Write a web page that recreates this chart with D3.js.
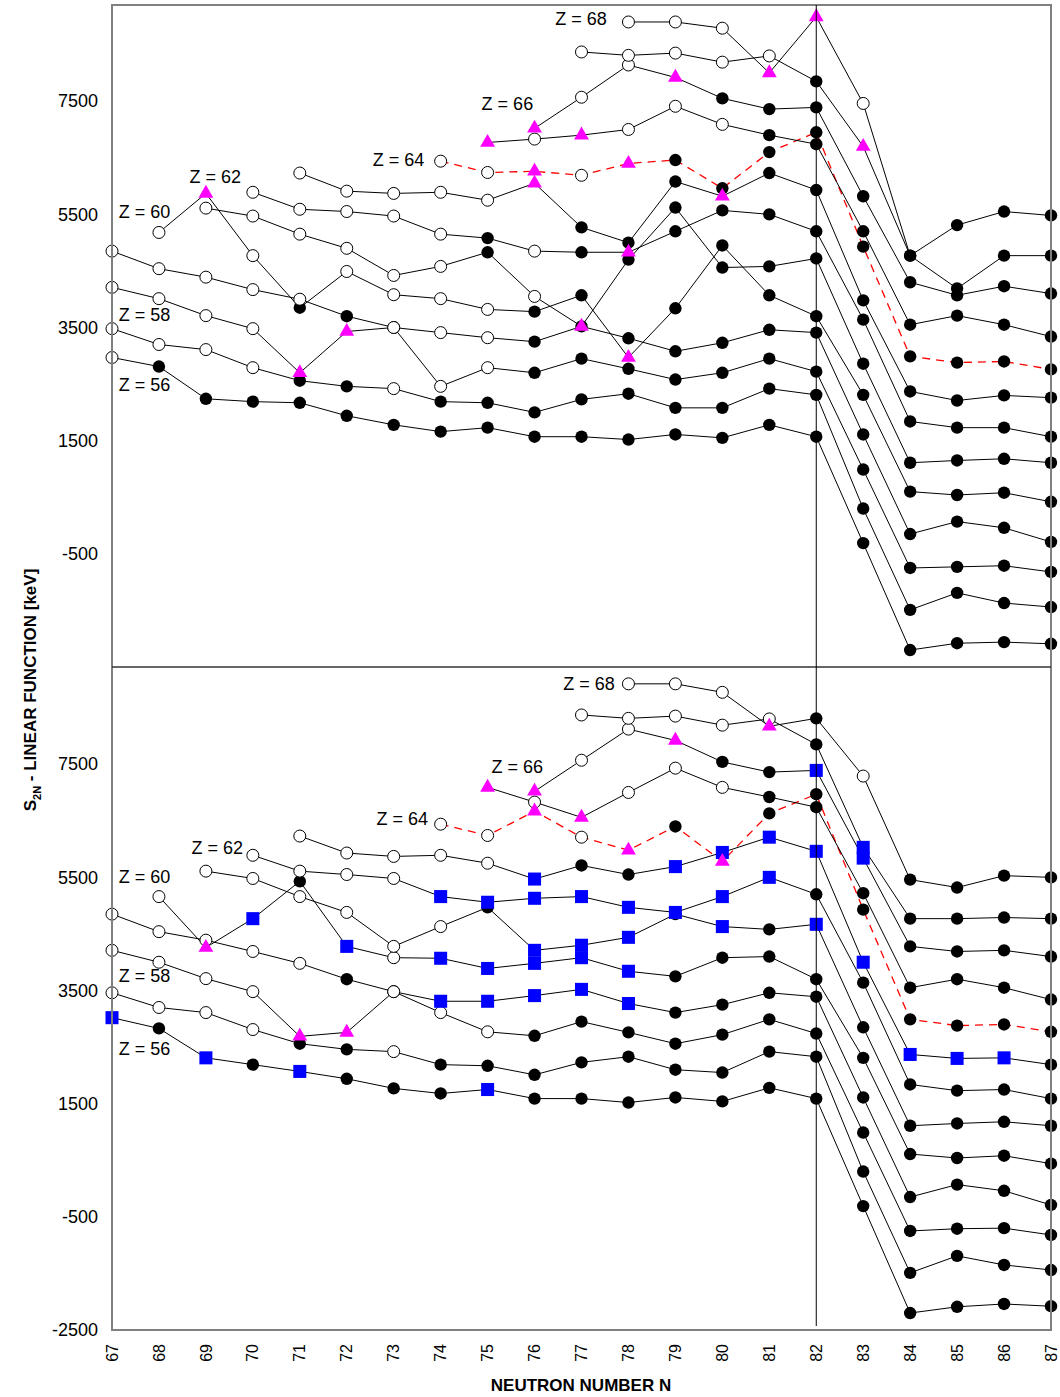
<!DOCTYPE html>
<html><head><meta charset="utf-8">
<script src="https://cdn.jsdelivr.net/npm/d3@7"></script>
<style>body{margin:0;background:#fff} text{font-family:"Liberation Sans", Arial, sans-serif}</style>
</head><body><svg id="c" width="1060" height="1397"></svg>
<script>
// ---------- data ----------
const neutronN = d3.range(67, 88);
const zValues = [56,57,58,59,60,61,62,63,64,65,66,67,68];
const startN  = [67,67,67,67,68,69,70,71,74,75,76,77,78];
const yTicksTop = [-500,1500,3500,5500,7500];
const yTicksBottom = [-2500,-500,1500,3500,5500,7500];
const dashedZ = 64;

// top panel (keV), one value per N from startN up to 87
const top56 = [2970,2810,2240,2190,2170,1940,1780,1660,1730,1570,1570,1520,1610,1550,1780,1570,-310,-2200,-2080,-2060,-2090];
const top57 = [3480,3200,3110,2790,2560,2460,2420,2190,2170,2000,2230,2330,2080,2080,2420,2310,300,-1490,-1190,-1370,-1440];
const top58 = [4210,4010,3710,3480,2700,3430,3500,2460,2790,2700,2950,2770,2580,2700,2950,2720,990,-750,-730,-710,-820];
const top59 = [4850,4540,4390,4170,4000,3700,3500,3410,3320,3250,3520,3310,3080,3230,3460,3410,1610,-150,70,-40,-290];
const top60 = [5180,5870,4770,3850,4490,4080,4010,3820,3780,4070,2970,3840,4950,4070,3700,2310,600,540,580,420];
const top61 = [5610,5470,5150,4900,4420,4580,4830,4050,3520,4700,5620,4560,4580,4720,2860,1110,1150,1180,1110];
const top62 = [5890,5590,5550,5470,5150,5080,4850,4830,4830,5200,5570,5500,5200,3640,1840,1730,1730,1570];
const top63 = [6230,5910,5870,5890,5750,6050,5270,5000,6080,5820,6230,5930,3980,2370,2210,2300,2260];
const top64 = [6440,6240,6260,6190,6400,6460,5960,6600,6950,4930,2990,2880,2900,2760];
const top65 = [6770,6830,6900,7000,7410,7090,6900,6740,5200,3550,3710,3550,3340];
const top66 = [7020,7570,8140,7920,7550,7360,7390,5820,4300,4070,4230,4100];
const top67 = [8370,8310,8350,8190,8300,7850,6700,4770,4190,4770,4770];
const top68 = [8900,8900,8790,8000,8990,7460,4770,5310,5550,5480];
// marker kind per point: o = open circle, f = filled circle, t = triangle, s = square
const top56m = "offffffffffffffffffff";
const top57m = "ooooffoffffffffffffff";
const top58m = "oooottoooffffffffffff";
const top59m = "ooooofoooffffffffffff";
const top60m = "otofoooofftfffffffff";
const top61m = "oooooofotffffffffff";
const top62m = "ooooofoftfffffffff";
const top63m = "oooootffftfffffff";
const top64m = "oototfffffffff";
const top65m = "totoooffffffff".slice(0,13);
const top66m = "tootffffffff";
const top67m = "oooooftffff";
const top68m = "ooottoffff";

// bottom panel (keV)
const bot56 = [3020,2830,2310,2190,2070,1940,1770,1680,1750,1590,1590,1520,1610,1540,1780,1590,-310,-2200,-2090,-2040,-2080];
const bot57 = [3460,3200,3110,2810,2560,2460,2420,2190,2170,2010,2230,2330,2100,2050,2420,2330,300,-1490,-1190,-1350,-1440];
const bot58 = [4210,4000,3710,3480,2690,2760,3480,3110,2770,2700,2950,2760,2560,2720,2990,2740,990,-750,-710,-700,-820];
const bot59 = [4850,4540,4390,4190,3980,3700,3480,3310,3310,3410,3520,3270,3110,3250,3460,3390,1610,-150,70,-40,-290];
const bot60 = [5160,4260,4770,5430,4280,4080,4070,3890,3980,4080,3840,3750,4080,4100,3700,2310,610,540,580,440];
const bot61 = [5610,5480,5160,4880,4280,4630,4970,4210,4300,4440,4850,4630,4580,4670,2850,1110,1150,1180,1110];
const bot62 = [5890,5610,5550,5480,5160,5060,5130,5160,4970,4880,5160,5500,5200,3640,1840,1730,1750,1590];
const bot63 = [6230,5930,5870,5890,5750,5470,5710,5550,5690,5940,6210,5960,4000,2370,2300,2310,2190];
const bot64 = [6440,6240,6670,6210,5980,6400,5780,6630,6970,4930,2990,2880,2900,2770];
const bot65 = [7090,6830,6560,7000,7430,7090,6920,6740,5220,3550,3700,3550,3340];
const bot66 = [7020,7570,8120,7920,7540,7360,7390,5840,4280,4190,4210,4100];
const bot67 = [8370,8310,8350,8190,8300,7850,6030,4770,4770,4790,4770];
const bot68 = [8920,8920,8770,8170,8310,7290,5460,5320,5530,5500];
const bot56m = "sfsfsfffsffffffffffff";
const bot57m = "ooooffoffffffffffffff";
const bot58m = "oooottoooffffffffffff";
const bot59m = "ooooofosssssfffffffff";
const bot60m = "otsfsosssssfffffffff";
const bot61m = "oooooofsssfsfsfffff";
const bot62m = "oooossssssssffffff";
const bot63m = "ooooosffssssssssf";
const bot64m = "oototftfffffff";
const bot65m = "totoooffffffff".slice(0,13);
const bot66m = "tootffssffff";
const bot67m = "ooooofsffff";
const bot68m = "oootfoffff";

// Z labels (anchored at their right end, in data units)
const labelZ = [68,66,64,62,60,58,56];
const topLabelN = [77.54,75.97,73.65,69.75,68.24,68.24,68.24];
const topLabelV = [8950,7450,6470,6170,5540,3730,2490];
const botLabelN = [77.71,76.18,73.73,69.79,68.24,68.24,68.24];
const botLabelV = [8920,7450,6540,6030,5520,3770,2470];

const topValues = [top56,top57,top58,top59,top60,top61,top62,top63,top64,top65,top66,top67,top68];
const topMarks  = [top56m,top57m,top58m,top59m,top60m,top61m,top62m,top63m,top64m,top65m,top66m,top67m,top68m];
const botValues = [bot56,bot57,bot58,bot59,bot60,bot61,bot62,bot63,bot64,bot65,bot66,bot67,bot68];
const botMarks  = [bot56m,bot57m,bot58m,bot59m,bot60m,bot61m,bot62m,bot63m,bot64m,bot65m,bot66m,bot67m,bot68m];

// ---------- drawing ----------
const svg = d3.select("#c");
const x = d3.scaleLinear().domain([67, 87]).range([112, 1051]);
const yTop = d3.scaleLinear().domain([-2500, 9200]).range([667, 5]);
const yBot = d3.scaleLinear().domain([-2500, 9200]).range([1330, 668]);
const plainNum = d => String(d);

function panel(y, values, marks, ticks, labN, labV) {
  const g = svg.append("g");
  const series = values.map((vals, i) => ({
    z: zValues[i],
    pts: vals.map((v, j) => ({ n: startN[i] + j, v: v, m: marks[i][j] }))
  }));
  const line = d3.line().x(d => x(d.n)).y(d => y(d.v));
  g.selectAll("path.s").data(series).join("path")
    .attr("d", d => line(d.pts))
    .attr("fill", "none")
    .attr("stroke", d => d.z === dashedZ ? "#ff0000" : "#000")
    .attr("stroke-width", d => d.z === dashedZ ? 1.3 : 1)
    .attr("stroke-dasharray", d => d.z === dashedZ ? "8,6" : null);

  const all = series.flatMap(s => s.pts);
  const order = { f: 0, o: 1, s: 2, t: 3 };
  all.sort((a, b) => order[a.m] - order[b.m]);
  const tri = d3.symbol().type(d3.symbolTriangle).size(95);
  const sq = d3.symbol().type(d3.symbolSquare).size(170);
  all.forEach(p => {
    const cx = x(p.n), cy = y(p.v);
    if (p.m === "f") g.append("circle").attr("cx", cx).attr("cy", cy).attr("r", 6.2).attr("fill", "#000");
    else if (p.m === "o") g.append("circle").attr("cx", cx).attr("cy", cy).attr("r", 6).attr("fill", "#fff").attr("stroke", "#000").attr("stroke-width", 1);
    else if (p.m === "t") g.append("path").attr("d", tri()).attr("transform", `translate(${cx},${cy})`).attr("fill", "#ff00ff");
    else g.append("path").attr("d", sq()).attr("transform", `translate(${cx},${cy})`).attr("fill", "#0000ff");
  });

  // y axis labels
  const ax = d3.axisLeft(y).tickValues(ticks).tickSize(0).tickPadding(14).tickFormat(plainNum);
  const ag = svg.append("g").attr("transform", "translate(112,0)").call(ax);
  ag.select(".domain").remove();
  ag.selectAll("text").attr("font-size", 18).attr("font-family", '"Liberation Sans", Arial, sans-serif').attr("fill", "#000");

  // Z labels
  svg.append("g").selectAll("text").data(labelZ).join("text")
    .attr("x", (d, i) => x(labN[i])).attr("y", (d, i) => y(labV[i]))
    .attr("dy", "0.35em").attr("text-anchor", "end")
    .attr("font-size", 18).text(d => "Z = " + d);
}

panel(yTop, topValues, topMarks, yTicksTop, topLabelN, topLabelV);
panel(yBot, botValues, botMarks, yTicksBottom, botLabelN, botLabelV);

// frame, divider, N=82 line
svg.append("rect").attr("x", 112).attr("y", 5).attr("width", 1051 - 112).attr("height", 1330 - 5)
  .attr("fill", "none").attr("stroke", "#808080").attr("stroke-width", 2);
svg.append("line").attr("x1", 112).attr("x2", 1051).attr("y1", yTop(-2500)).attr("y2", yTop(-2500))
  .attr("stroke", "#333").attr("stroke-width", 1.6);
svg.append("line").attr("x1", x(82)).attr("x2", x(82)).attr("y1", 5).attr("y2", 1326)
  .attr("stroke", "#000").attr("stroke-width", 1);

// x axis (labels rotated, reading bottom to top)
const xa = d3.axisBottom(x).tickValues(neutronN).tickSize(0).tickFormat(plainNum);
const xg = svg.append("g").attr("transform", "translate(0,1330)").call(xa);
xg.select(".domain").remove();
xg.selectAll("text").attr("font-size", 16).attr("fill", "#000")
  .attr("y", 0).attr("x", -14).attr("dy", "0.32em")
  .attr("transform", "rotate(-90)").style("text-anchor", "end");

// axis titles
svg.append("text").attr("x", 581).attr("y", 1385).attr("dy", "0.35em").attr("text-anchor", "middle")
  .attr("font-weight", "bold").attr("font-size", 17).text("NEUTRON NUMBER N");
const yt = svg.append("text").attr("transform", "translate(30,690) rotate(-90)").attr("text-anchor", "middle")
  .attr("font-weight", "bold").attr("font-size", 17).attr("dy", "0.35em");
yt.append("tspan").text("S");
yt.append("tspan").attr("font-size", 11).attr("dy", 5).text("2N");
yt.append("tspan").attr("dy", -5).text("  - LINEAR FUNCTION [keV]");
</script>
</body></html>
